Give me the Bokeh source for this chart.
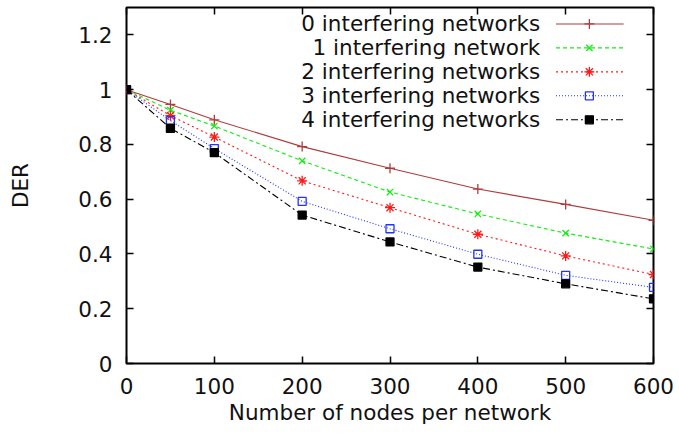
from bokeh.plotting import figure
from bokeh.models import LinearAxis, FixedTicker, Range1d
from bokeh.embed import file_html
from bokeh.resources import INLINE
from bokeh.core.properties import value

# ---- data -------------------------------------------------------------
nodes = [0, 50, 100, 200, 300, 400, 500, 600]
der_0 = [1.0, 0.946, 0.890, 0.792, 0.713, 0.637, 0.581, 0.523]
der_1 = [1.0, 0.925, 0.867, 0.740, 0.626, 0.546, 0.476, 0.418]
der_2 = [1.0, 0.905, 0.827, 0.667, 0.569, 0.472, 0.393, 0.325]
der_3 = [1.0, 0.887, 0.785, 0.592, 0.492, 0.399, 0.322, 0.278]
der_4 = [1.0, 0.859, 0.770, 0.542, 0.444, 0.352, 0.291, 0.236]

series_labels = [
    "0 interfering networks",
    "1 interfering network",
    "2 interfering networks",
    "3 interfering networks",
    "4 interfering networks",
]
x_ticks = [0, 100, 200, 300, 400, 500, 600]
y_ticks = [0, 0.2, 0.4, 0.6, 0.8, 1.0, 1.2]
y_tick_labels = ["0", "0.2", "0.4", "0.6", "0.8", "1", "1.2"]

# ---- styles -----------------------------------------------------------
FONT = "DejaVu Sans"
FS = "21.5px"
styles = [
    dict(color="#b03c3c", dash="solid", marker="cross", fill=None, size=10),
    dict(color="#11ee11", dash="4 3", marker="x", fill=None, size=9),
    dict(color="#ff1a1a", dash="2 3", marker="asterisk", fill=None, size=10),
    dict(color="#2233ff", dash="1 2", marker="square", fill=None, size=8),
    dict(color="#000000", dash="7 3 2 3", marker="square", fill="#000000", size=8),
]
all_series = [der_0, der_1, der_2, der_3, der_4]

p = figure(
    width=679, height=439,
    x_range=Range1d(0, 600), y_range=Range1d(0, 1.3),
    output_backend="svg", toolbar_location=None,
    min_border_left=126, min_border_right=26,
    min_border_top=7, min_border_bottom=76,
)
p.background_fill_color = "white"
p.border_fill_color = "white"
p.grid.visible = False
p.outline_line_color = "black"
p.outline_line_width = 2

# ---- axes -------------------------------------------------------------
def style_axis(ax, ticks):
    ax.ticker = FixedTicker(ticks=ticks)
    ax.axis_line_color = None
    ax.major_tick_in = 7
    ax.major_tick_out = 0
    ax.major_tick_line_width = 1.5
    ax.major_tick_line_color = "black"
    ax.minor_tick_line_color = None
    ax.major_label_text_font = FONT
    ax.major_label_text_font_size = FS
    ax.major_label_text_color = "#111111"
    ax.axis_label_text_font = FONT
    ax.axis_label_text_font_size = FS
    ax.axis_label_text_font_style = "normal"
    ax.axis_label_text_color = "#111111"

xa = p.xaxis[0]
style_axis(xa, x_ticks)
xa.axis_label = "Number of nodes per network"
xa.major_label_standoff = 14
xa.axis_label_standoff = 3

ya = p.yaxis[0]
style_axis(ya, y_ticks)
ya.axis_label = "DER"
ya.major_label_overrides = {t: s for t, s in zip(y_ticks, y_tick_labels)}
ya.major_label_standoff = 14
ya.axis_label_standoff = 42

# mirrored tick marks on the top and right edges, without labels
top = LinearAxis()
style_axis(top, x_ticks)
top.major_label_overrides = {t: "" for t in x_ticks}
top.major_label_text_font_size = "1px"
top.major_label_standoff = 0
p.add_layout(top, "above")

right = LinearAxis()
style_axis(right, y_ticks)
right.major_label_overrides = {t: "" for t in y_ticks}
right.major_label_text_font_size = "1px"
right.major_label_standoff = 0
p.add_layout(right, "right")

# ---- series -----------------------------------------------------------
for ys, st in zip(all_series, styles):
    p.line(nodes, ys, line_color=st["color"], line_width=1.1, line_dash=st["dash"])
    p.scatter(nodes, ys, marker=st["marker"], size=st["size"],
              line_color=st["color"], line_width=1.3,
              fill_color=st["fill"] if st["fill"] else None)

# ---- legend (label on the left, sample on the right) -------------------
leg_text_x = 471
leg_line_x0, leg_line_x1 = 489, 566
leg_marker_x = 527
leg_top_y, leg_step = 1.24, 0.0875
for i, (lab, st) in enumerate(zip(series_labels, styles)):
    yy = leg_top_y - i * leg_step
    p.text(x=[leg_text_x], y=[yy], text=[lab], text_align="right",
           text_baseline="middle", text_font=value(FONT),
           text_font_size=FS, text_color="#111111")
    p.line([leg_line_x0, leg_line_x1], [yy, yy], line_color=st["color"],
           line_width=1.1, line_dash=st["dash"])
    p.scatter([leg_marker_x], [yy], marker=st["marker"], size=st["size"],
              line_color=st["color"], line_width=1.3,
              fill_color=st["fill"] if st["fill"] else None)

open("out.html", "w").write(file_html(p, INLINE))
